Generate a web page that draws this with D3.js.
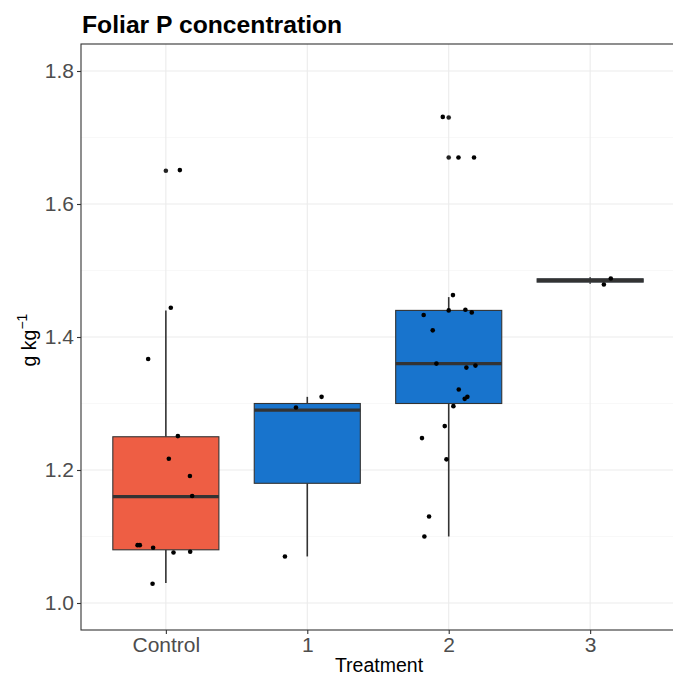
<!DOCTYPE html>
<html><head><meta charset="utf-8">
<script src="https://cdn.jsdelivr.net/npm/d3@7"></script>
<style>body{margin:0;background:#fff}svg{display:block}</style>
</head><body>
<script>
// ---- data ----
const categories = ["Control", "1", "2", "3"];
const fills = ["#EE5E44", "#1874CD", "#1874CD", "#1874CD"];
// box statistics: lower whisker, q1, median, q3, upper whisker
const whiskerLow = [1.03, 1.07, 1.10, 1.48];
const q1 = [1.08, 1.18, 1.30, 1.4825];
const median = [1.16, 1.29, 1.36, 1.485];
const q3 = [1.25, 1.30, 1.44, 1.4875];
const whiskerHigh = [1.44, 1.31, 1.46, 1.49];
// outliers (drawn at category centre)
const outlierCat = ["Control", "2", "2"];
const outlierVal = [1.65, 1.73, 1.67];
// jittered observations
const pointCat = [
  "Control","Control","Control","Control","Control","Control","Control","Control","Control","Control","Control","Control","Control",
  "1","1","1",
  "2","2","2","2","2","2","2","2","2","2","2","2","2","2","2","2","2","2","2","2","2",
  "3","3"];
const pointVal = [
  1.651,1.444,1.367,1.251,1.217,1.191,1.161,1.087,1.087,1.083,1.076,1.077,1.029,
  1.310,1.294,1.070,
  1.731,1.670,1.670,1.463,1.440,1.441,1.437,1.433,1.410,1.360,1.354,1.357,1.321,1.310,1.307,1.296,1.266,1.248,1.216,1.130,1.100,
  1.488,1.479];
// horizontal jitter, as a fraction of one category step
const pointJitter = [
  0.099,0.035,-0.125,0.085,0.021,0.170,0.186,-0.200,-0.184,-0.090,0.054,0.172,-0.094,
  0.101,-0.080,-0.158,
  -0.042,0.069,0.179,0.030,0.000,0.118,0.163,-0.177,-0.113,-0.087,0.125,0.189,0.071,0.132,0.113,0.033,-0.028,-0.189,-0.016,-0.139,-0.172,
  0.146,0.097];
const yTicks = [1.0, 1.2, 1.4, 1.6, 1.8];
const yMinor = [1.1, 1.3, 1.5, 1.7];

// ---- layout ----
const W = 673, H = 677;
const m = {left: 81, top: 44, right: 675, bottom: 630};
const svg = d3.select("body").append("svg").attr("width", W).attr("height", H)
  .style("font-family", "'Liberation Sans', Arial, sans-serif");

const y = d3.scaleLinear().domain([0.9594, 1.8406]).range([m.bottom, m.top]);
const step = (m.right - m.left) / 4.2;
const x = d3.scalePoint().domain(categories).range([m.left + 0.6 * step, m.right - 0.6 * step]);
const boxW = 0.75 * step;

const g = svg.append("g");
svg.append("clipPath").attr("id", "clip").append("rect")
  .attr("x", m.left).attr("y", m.top).attr("width", m.right - m.left).attr("height", m.bottom - m.top);
const panel = g.append("g").attr("clip-path", "url(#clip)");

// gridlines
panel.selectAll(".minor").data(yMinor).join("line")
  .attr("x1", m.left).attr("x2", m.right)
  .attr("y1", d => y(d)).attr("y2", d => y(d))
  .attr("stroke", "#f2f2f2").attr("stroke-width", 0.55);
panel.selectAll(".major").data(yTicks).join("line")
  .attr("x1", m.left).attr("x2", m.right)
  .attr("y1", d => y(d)).attr("y2", d => y(d))
  .attr("stroke", "#ebebeb").attr("stroke-width", 1.1);
panel.selectAll(".vmajor").data(categories).join("line")
  .attr("y1", m.top).attr("y2", m.bottom)
  .attr("x1", d => x(d)).attr("x2", d => x(d))
  .attr("stroke", "#ebebeb").attr("stroke-width", 1.1);

// boxes
const idx = d3.range(categories.length);
panel.selectAll(".wh").data(idx).join("line")
  .attr("x1", i => x(categories[i])).attr("x2", i => x(categories[i]))
  .attr("y1", i => y(whiskerHigh[i])).attr("y2", i => y(q3[i]))
  .attr("stroke", "#333333").attr("stroke-width", 1.6);
panel.selectAll(".wl").data(idx).join("line")
  .attr("x1", i => x(categories[i])).attr("x2", i => x(categories[i]))
  .attr("y1", i => y(q1[i])).attr("y2", i => y(whiskerLow[i]))
  .attr("stroke", "#333333").attr("stroke-width", 1.6);
panel.selectAll(".box").data(idx).join("rect")
  .attr("x", i => x(categories[i]) - boxW / 2).attr("width", boxW)
  .attr("y", i => y(q3[i])).attr("height", i => Math.max(0.1, y(q1[i]) - y(q3[i])))
  .attr("fill", i => fills[i]).attr("stroke", "#333333").attr("stroke-width", 1.1);
panel.selectAll(".med").data(idx).join("line")
  .attr("x1", i => x(categories[i]) - boxW / 2).attr("x2", i => x(categories[i]) + boxW / 2)
  .attr("y1", i => y(median[i])).attr("y2", i => y(median[i]))
  .attr("stroke", "#333333").attr("stroke-width", 3.2);

// outliers
panel.selectAll(".out").data(outlierVal).join("circle")
  .attr("cx", (d, i) => x(outlierCat[i])).attr("cy", d => y(d)).attr("r", 2.3)
  .attr("fill", "#222");
// jitter points
panel.selectAll(".pt").data(pointVal).join("circle")
  .attr("cx", (d, i) => x(pointCat[i]) + pointJitter[i] * step).attr("cy", d => y(d)).attr("r", 2.3)
  .attr("fill", "#000");

// panel border
g.append("rect").attr("x", m.left).attr("y", m.top)
  .attr("width", m.right - m.left).attr("height", m.bottom - m.top)
  .attr("fill", "none").attr("stroke", "#333333").attr("stroke-width", 1.1);

// axes
const yAxis = g.append("g").attr("transform", `translate(${m.left},0)`)
  .call(d3.axisLeft(y).tickValues(yTicks).tickFormat(d3.format(".1f")).tickSize(4).tickPadding(3));
const xAxis = g.append("g").attr("transform", `translate(0,${m.bottom})`)
  .call(d3.axisBottom(x).tickSize(4).tickPadding(3));
[yAxis, xAxis].forEach(a => {
  a.select(".domain").remove();
  a.selectAll(".tick line").attr("stroke", "#333333").attr("stroke-width", 1.1);
  a.selectAll(".tick text").attr("fill", "#4D4D4D").style("font-size", "21px")
    .style("font-family", "'Liberation Sans', Arial, sans-serif");
});

// titles
svg.append("text").attr("x", 82).attr("y", 33)
  .style("font-size", "24.7px").style("font-weight", "bold").attr("fill", "#000")
  .text("Foliar P concentration");
svg.append("text").attr("x", 379).attr("y", 672)
  .attr("text-anchor", "middle").style("font-size", "19.5px").attr("fill", "#000")
  .text("Treatment");
const yt = svg.append("text").attr("transform", `translate(36,340) rotate(-90)`)
  .attr("text-anchor", "middle").style("font-size", "19.5px").attr("fill", "#000");
yt.append("tspan").text("g kg");
yt.append("tspan").attr("dy", -9).style("font-size", "14px").text("\u22121");
</script>
</body></html>
